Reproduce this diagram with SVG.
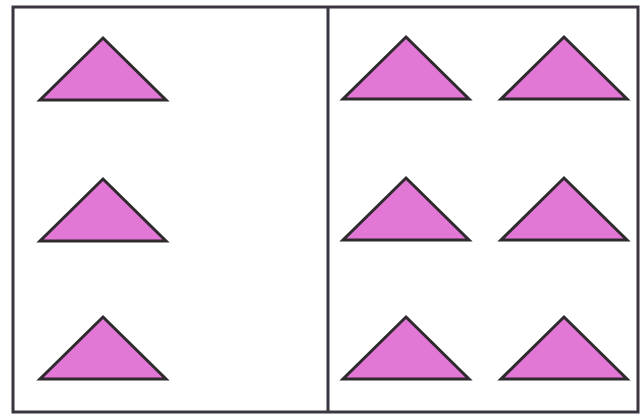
<svg xmlns="http://www.w3.org/2000/svg" width="642" height="415" viewBox="0 0 642 415">
<defs>
<style>
.frame{fill:#fff;stroke:#3a3540;stroke-width:3}
.div{stroke:#3a3540;stroke-width:3}
.tri{fill:#e277d6;stroke:#2e2a2e;stroke-width:3;stroke-linejoin:miter}
</style>
<polygon id="t" class="tri" points="0,0 63,62 -63,62"/>
</defs>
<rect width="642" height="415" fill="#fff"/>
<rect class="frame" x="13" y="7" width="625" height="405"/>
<line class="div" x1="328" y1="7" x2="328" y2="412"/>
<g id="left">
<use href="#t" x="103" y="38"/>
<use href="#t" x="103" y="179"/>
<use href="#t" x="103" y="317"/>
</g>
<g id="right">
<use href="#t" x="406" y="37"/>
<use href="#t" x="564" y="37"/>
<use href="#t" x="406" y="178"/>
<use href="#t" x="564" y="178"/>
<use href="#t" x="406" y="317"/>
<use href="#t" x="564" y="317"/>
</g>
</svg>
